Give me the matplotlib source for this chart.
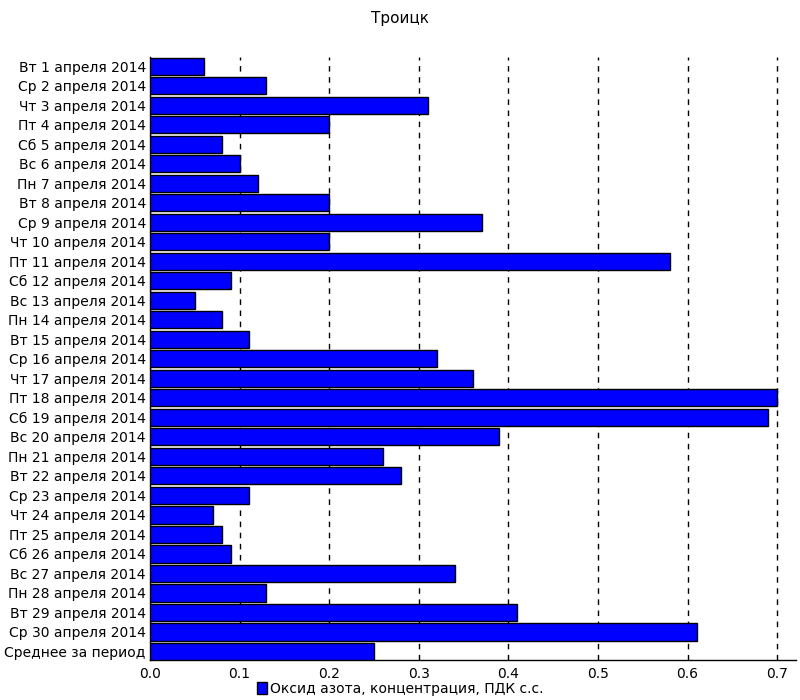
import matplotlib
matplotlib.use("Agg")
import matplotlib.pyplot as plt
from matplotlib.patches import Patch

plt.rcParams['font.family'] = ['DejaVu Sans']

days = [
    "Вт 1 апреля 2014", "Ср 2 апреля 2014", "Чт 3 апреля 2014", "Пт 4 апреля 2014",
    "Сб 5 апреля 2014", "Вс 6 апреля 2014", "Пн 7 апреля 2014", "Вт 8 апреля 2014",
    "Ср 9 апреля 2014", "Чт 10 апреля 2014", "Пт 11 апреля 2014", "Сб 12 апреля 2014",
    "Вс 13 апреля 2014", "Пн 14 апреля 2014", "Вт 15 апреля 2014", "Ср 16 апреля 2014",
    "Чт 17 апреля 2014", "Пт 18 апреля 2014", "Сб 19 апреля 2014", "Вс 20 апреля 2014",
    "Пн 21 апреля 2014", "Вт 22 апреля 2014", "Ср 23 апреля 2014", "Чт 24 апреля 2014",
    "Пт 25 апреля 2014", "Сб 26 апреля 2014", "Вс 27 апреля 2014", "Пн 28 апреля 2014",
    "Вт 29 апреля 2014", "Ср 30 апреля 2014", "Среднее за период",
]
values = [
    0.06, 0.13, 0.31, 0.20, 0.08, 0.10, 0.12, 0.20, 0.37, 0.20, 0.58, 0.09,
    0.05, 0.08, 0.11, 0.32, 0.36, 0.70, 0.69, 0.39, 0.26, 0.28, 0.11, 0.07,
    0.08, 0.09, 0.34, 0.13, 0.41, 0.61, 0.25,
]
xticks = [0.0, 0.1, 0.2, 0.3, 0.4, 0.5, 0.6, 0.7]
series_name = "Оксид азота, концентрация, ПДК с.с."

fig = plt.figure(figsize=(8, 7), dpi=100)
ax = fig.add_axes([0.1875, 0.057, 0.8075, 0.8614])

pos = list(range(len(days)))
ax.barh(pos, values, height=0.88, color="#0000FF", edgecolor="black", linewidth=1, zorder=3)

ax.set_ylim(len(days) - 0.56, -0.46)
ax.set_xlim(0, 0.721)
ax.set_yticks(pos)
ax.set_yticklabels(days, fontsize=10)
ax.set_xticks(xticks)
ax.set_xticklabels([f"{t:.1f}" for t in xticks], fontsize=10)
ax.tick_params(axis="y", length=0, pad=3)
ax.tick_params(axis="x", length=0, pad=5)
ax.grid(axis="x", color="black", linestyle=(0, (4, 4)), linewidth=1, zorder=1)

for side in ["top", "right"]:
    ax.spines[side].set_visible(False)
for side in ["left", "bottom"]:
    ax.spines[side].set_color("black")
    ax.spines[side].set_linewidth(1)

fig.text(0.5, 0.974, "Троицк", ha="center", va="center", fontsize=11)

handle = Patch(facecolor="#0000FF", edgecolor="black", label=series_name)
fig.legend(handles=[handle], loc="center", bbox_to_anchor=(0.5, 0.016), frameon=False,
           fontsize=10, handlelength=0.7, handleheight=0.9, handletextpad=0.2)

fig.savefig("out.png", dpi=100)
